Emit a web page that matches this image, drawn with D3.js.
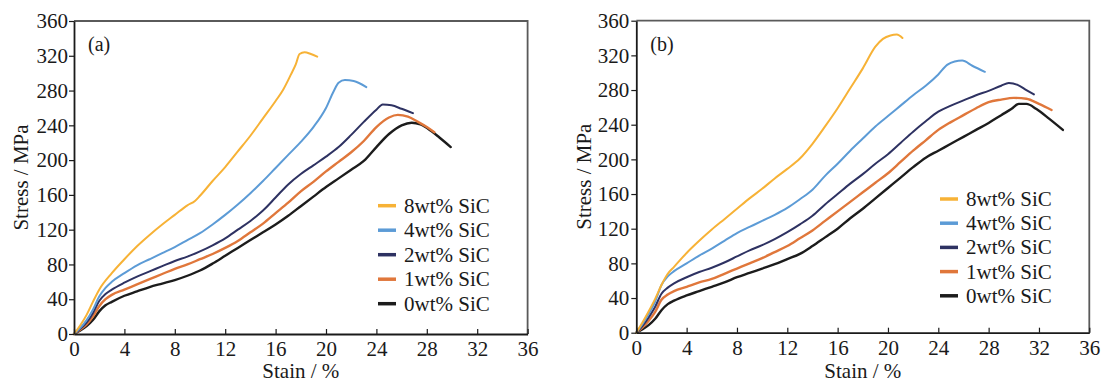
<!DOCTYPE html>
<html>
<head>
<meta charset="utf-8">
<script src="https://cdn.jsdelivr.net/npm/d3@7"></script>
<style>
  html, body { margin: 0; padding: 0; background: #fff; }
  svg text { font-family: "Liberation Serif", "Times New Roman", serif; fill: #1a1a1a; }
</style>
</head>
<body>
<svg id="chart" width="1105" height="383"></svg>
<script>
// ---------- data ----------
const categories = ["8wt% SiC", "4wt% SiC", "2wt% SiC", "1wt% SiC", "0wt% SiC"];
const seriesColors = ["#F7B236", "#5C9BD6", "#2E3262", "#E0773B", "#1C1C1C"];
const xTicks = [0, 4, 8, 12, 16, 20, 24, 28, 32, 36];
const yTicks = [0, 40, 80, 120, 160, 200, 240, 280, 320, 360];
const panelLabels = ["(a)", "(b)"];
const xTitle = "Stain / %";
const yTitle = "Stress / MPa";

// panel (a): [strain %, stress MPa]
const a8 = [[0,0],[0.5,10],[1,22],[1.5,37],[2,51],[3,70],[4,86],[5,101],[6,114],[7,126],[8,137],[9,148],[9.6,153],[10,159],[11,176],[12,192],[13,210],[14,228],[15,248],[16,268],[16.6,281],[17.2,298],[17.6,310],[17.9,322],[18.3,324],[18.8,322],[19.3,319]];
const a4 = [[0,0],[0.5,7],[1,16],[1.5,28],[2,43],[2.5,53],[3,60],[4,70],[5,79],[6,86],[7,93],[8,100],[9,108],[10,116],[11,126],[12,137],[13,149],[14,162],[15,176],[16,191],[17,206],[18,221],[19,238],[20,260],[20.6,279],[21,289],[21.5,292],[22.2,291],[23.2,284]];
const a2 = [[0,0],[0.5,6],[1,13],[1.5,24],[2,38],[2.5,46],[3,51],[4,59],[5,66],[6,72],[7,78],[8,84],[9,89],[10,95],[11,102],[12,110],[13,120],[14,130],[15,142],[16,157],[17,172],[18,184],[19,194],[20,204],[21,215],[22,229],[23,244],[24,258],[24.5,264],[25.2,263],[26,259],[26.9,254]];
const a1 = [[0,0],[0.5,5],[1,11],[1.5,20],[2,32],[2.5,40],[3,45],[4,51],[5,57],[6,63],[7,69],[8,75],[9,80],[10,86],[11,92],[12,99],[13,107],[14,117],[15,127],[16,139],[17,151],[18,164],[19,175],[20,187],[21,198],[22,209],[23,222],[24,238],[25,249],[25.7,252],[26.5,250],[27.3,244],[28,238],[28.6,232]];
const a0 = [[0,0],[0.5,4],[1,9],[1.5,16],[2,26],[2.5,33],[3,37],[4,44],[5,49],[6,54],[7,58],[8,62],[9,67],[10,73],[11,81],[12,90],[13,99],[14,108],[15,117],[16,126],[17,136],[18,147],[19,158],[20,169],[21,179],[22,189],[23,199],[24,215],[25,230],[26,240],[26.8,243],[27.5,241],[28.3,234],[29,226],[29.9,215]];

// panel (b)
const b8 = [[0,0],[0.5,12],[1,25],[1.5,39],[2,55],[2.5,68],[3,76],[4,92],[5,106],[6,119],[7,131],[8,143],[9,155],[10,166],[11,178],[12,189],[13,201],[14,218],[15,238],[16,259],[17,282],[18,305],[19,330],[19.6,339],[20.2,343],[20.7,344],[21.15,340]];
const b4 = [[0,0],[0.5,10],[1,22],[1.5,36],[2,55],[2.5,65],[3,71],[4,80],[5,89],[6,97],[7,106],[8,115],[9,122],[10,129],[11,136],[12,144],[13,154],[14,165],[15,181],[16,195],[17,210],[18,224],[19,238],[20,250],[21,262],[22,274],[23,285],[24,298],[24.7,309],[25.3,313],[25.9,314],[26.7,308],[27.7,301]];
const b2 = [[0,0],[0.5,8],[1,18],[1.5,30],[2,45],[2.5,52],[3,57],[4,64],[5,70],[6,75],[7,81],[8,88],[9,95],[10,101],[11,108],[12,116],[13,125],[14,135],[15,148],[16,160],[17,172],[18,183],[19,195],[20,206],[21,219],[22,232],[23,244],[24,255],[25,262],[26,268],[27,274],[28,279],[29,285],[29.6,288],[30.3,286],[31,280],[31.6,275]];
const b1 = [[0,0],[0.5,6],[1,14],[1.5,24],[2,38],[2.5,44],[3,48],[4,53],[5,58],[6,62],[7,68],[8,74],[9,80],[10,86],[11,93],[12,100],[13,109],[14,118],[15,129],[16,140],[17,151],[18,162],[19,173],[20,184],[21,197],[22,210],[23,222],[24,234],[25,243],[26,251],[27,259],[28,266],[29,269],[30,271],[31,270],[32,264],[33,257]];
const b0 = [[0,0],[0.5,4],[1,9],[1.5,16],[2,26],[2.5,33],[3,37],[4,43],[5,48],[6,53],[7,58],[8,64],[9,69],[10,74],[11,79],[12,85],[13,91],[14,100],[15,110],[16,120],[17,132],[18,143],[19,155],[20,167],[21,179],[22,191],[23,202],[24,210],[25,218],[26,226],[27,234],[28,242],[29,251],[29.8,258],[30.4,264],[31,264],[31.8,258],[32.8,247],[33.9,234]];

const panelSeries = [[a8, a4, a2, a1, a0], [b8, b4, b2, b1, b0]];

// ---------- layout ----------
const layouts = [
  { left: 74,  right: 527.6, top: 21,   bottom: 334,   ytitleX: 28,  legX: 378, legY: 205.7, legStep: 24.5 },
  { left: 636.3, right: 1089.3, top: 20.7, bottom: 332.7, ytitleX: 591, legX: 940, legY: 199,   legStep: 24.2 }
];

const svg = d3.select("#chart");

layouts.forEach((L, pi) => {
  const x = d3.scaleLinear().domain([0, 36]).range([L.left, L.right]);
  const y = d3.scaleLinear().domain([0, 360]).range([L.bottom, L.top]);
  const g = svg.append("g");

  // frame: top & right in gray
  g.append("path")
    .attr("d", `M${L.left},${L.top}H${L.right}V${L.bottom}`)
    .attr("fill", "none").attr("stroke", "#5a5a5a").attr("stroke-width", 1.8);

  // curves
  const line = d3.line().x(d => x(d[0])).y(d => y(d[1])).curve(d3.curveMonotoneX);
  panelSeries[pi].slice().reverse().forEach((s, ri) => {
    const i = categories.length - 1 - ri;
    g.append("path")
      .attr("d", line(s))
      .attr("fill", "none")
      .attr("stroke", seriesColors[i])
      .attr("stroke-width", (i >= 3) ? 2.4 : 2)
      .attr("stroke-linejoin", "round")
      .attr("stroke-linecap", "round");
  });

  // axes
  const xAxis = d3.axisBottom(x).tickValues(xTicks).tickSizeInner(-5).tickSizeOuter(0).tickPadding(7).tickFormat(d3.format("d"));
  const yAxis = d3.axisLeft(y).tickValues(yTicks).tickSizeInner(5).tickSizeOuter(0).tickPadding(pi === 0 ? 1 : 2).tickFormat(d3.format("d"));

  const gx = g.append("g").attr("transform", `translate(0,${L.bottom})`).call(xAxis);
  const gy = g.append("g").attr("transform", `translate(${L.left},0)`).call(yAxis);
  [gx, gy].forEach(ax => {
    ax.select(".domain").attr("stroke", "#1a1a1a").attr("stroke-width", 1.8);
    ax.selectAll(".tick line").attr("stroke", "#1a1a1a").attr("stroke-width", 1.2);
    ax.selectAll(".tick text").attr("font-size", 21).attr("font-family", "Liberation Serif, serif").attr("fill", "#1a1a1a");
  });

  // axis titles
  g.append("text")
    .attr("x", (L.left + L.right) / 2).attr("y", 378)
    .attr("text-anchor", "middle").attr("font-size", 21)
    .text(xTitle);
  g.append("text")
    .attr("transform", `translate(${L.ytitleX},${(L.top + L.bottom) / 2}) rotate(-90)`)
    .attr("text-anchor", "middle").attr("font-size", 21)
    .text(yTitle);

  // panel label
  g.append("text")
    .attr("x", L.left + 14).attr("y", 51)
    .attr("font-size", 20)
    .text(panelLabels[pi]);

  // legend
  categories.forEach((c, i) => {
    const ly = L.legY + i * L.legStep;
    g.append("line")
      .attr("x1", L.legX).attr("x2", L.legX + 18)
      .attr("y1", ly).attr("y2", ly)
      .attr("stroke", seriesColors[i]).attr("stroke-width", 3.5);
    g.append("text")
      .attr("x", L.legX + 26).attr("y", ly).attr("dy", "0.33em")
      .attr("font-size", 21)
      .text(c);
  });
});
</script>
</body>
</html>
